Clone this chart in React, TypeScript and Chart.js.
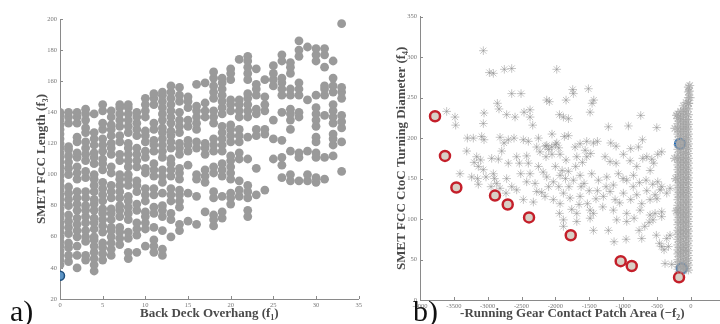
import React, { useEffect, useRef } from "react";
import { Chart, registerables } from "chart.js";

Chart.register(...registerables);

// ---------- Panel a) : Back Deck Overhang (f1) vs SMET FCC Length (f3) ----------
const leftXs = [0, 1, 2, 3, 4, 5, 6, 7, 8, 9, 10, 11, 12, 13, 14, 15, 16, 17, 18, 19, 20, 21, 22, 23, 24, 25, 26, 27, 28, 29, 30, 31, 32, 33];
const leftColumns: number[][] = [
  [42, 45, 48, 51, 54, 57, 60, 63, 66, 69, 72, 75, 78, 81, 84, 87, 90, 93, 96, 99, 102, 105, 108, 111, 114, 117, 120, 123, 126, 129, 132, 135, 138, 140],
  [44, 48, 53, 56, 62, 66, 70, 74, 80, 84, 88, 92, 100, 104, 108, 112, 116, 118, 133, 137, 140],
  [40, 48, 54, 60, 64, 68, 72, 77, 81, 85, 89, 97, 101, 105, 111, 114, 121, 124, 133, 137, 140],
  [45, 48, 57, 60, 64, 69, 73, 77, 80, 85, 89, 98, 102, 109, 113, 117, 121, 127, 130, 135, 139, 142],
  [38, 42, 46, 50, 54, 58, 60, 65, 69, 72, 77, 81, 84, 89, 93, 97, 100, 107, 111, 114, 119, 123, 127, 139],
  [45, 49, 53, 56, 63, 67, 71, 75, 78, 83, 87, 91, 95, 103, 107, 110, 115, 119, 123, 129, 133, 141, 145],
  [48, 52, 56, 60, 64, 66, 71, 75, 78, 85, 89, 93, 101, 105, 113, 117, 120, 125, 129, 132, 137, 141],
  [55, 59, 63, 66, 73, 77, 80, 85, 89, 93, 97, 100, 109, 113, 121, 125, 131, 135, 139, 143, 145],
  [46, 50, 59, 63, 71, 75, 79, 83, 86, 93, 97, 100, 105, 109, 113, 117, 120, 127, 131, 135, 139, 143, 145],
  [50, 61, 65, 69, 77, 81, 89, 93, 96, 105, 109, 113, 117, 125, 129, 133, 137, 140],
  [54, 65, 69, 73, 76, 83, 87, 91, 101, 104, 111, 115, 121, 125, 128, 137, 141, 145, 149],
  [50, 54, 58, 66, 75, 79, 87, 91, 99, 103, 107, 115, 119, 122, 129, 133, 145, 149, 152],
  [48, 52, 64, 73, 77, 80, 88, 95, 99, 103, 111, 115, 119, 123, 127, 130, 135, 139, 143, 147, 151, 153],
  [60, 71, 75, 83, 87, 91, 99, 103, 107, 110, 117, 121, 125, 128, 133, 137, 141, 145, 149, 153, 157],
  [64, 68, 79, 83, 87, 90, 97, 101, 104, 113, 117, 120, 127, 131, 135, 140, 147, 151, 156],
  [70, 88, 106, 115, 119, 122, 131, 135, 143, 147, 150],
  [68, 86, 97, 100, 117, 121, 129, 133, 137, 141, 144, 158],
  [76, 95, 99, 103, 113, 117, 120, 137, 141, 146, 159],
  [67, 71, 74, 85, 89, 101, 105, 115, 119, 123, 133, 137, 141, 149, 153, 157, 162, 166],
  [72, 76, 86, 99, 103, 107, 115, 119, 123, 127, 131, 139, 143, 147, 151, 155, 159, 162],
  [81, 85, 88, 97, 101, 105, 109, 112, 121, 125, 129, 132, 141, 145, 148, 161, 165, 168],
  [86, 90, 96, 110, 114, 121, 125, 129, 137, 141, 145, 148, 174],
  [73, 77, 85, 89, 93, 110, 124, 137, 141, 145, 149, 152, 161, 165, 169, 173, 176],
  [87, 104, 125, 129, 139, 142, 151, 155, 158, 168],
  [90, 126, 129, 141, 145, 150, 161],
  [110, 123, 135, 157, 161, 165, 170],
  [98, 106, 111, 122, 140, 151, 155, 159, 162, 173, 177],
  [96, 100, 115, 129, 135, 139, 142, 151, 155, 165, 169, 172],
  [96, 111, 114, 137, 140, 151, 155, 159, 176, 180, 186],
  [96, 100, 115, 148, 182],
  [95, 98, 111, 114, 121, 124, 131, 135, 139, 143, 151, 173, 177, 181],
  [97, 111, 138, 151, 155, 157, 169, 177, 181],
  [112, 119, 123, 126, 133, 137, 141, 145, 153, 157, 162, 173],
  [102, 121, 130, 134, 138, 149, 153, 156, 197],
];
const leftBestX = [0];
const leftBestY = [35];

// ---------- Panel b) : -Running Gear Contact Patch Area (-f2) vs Turning Diameter (f4) ----------
const starX = [
  -3064, -2975, -2916, -2754, -2645, -1980, -2645, -2507, -1512, -1744, -1734, -1433, -1458, -1842, -2128, -2089,
  -3606, -3483, -3473, -3054, -3064, -2857, -2833, -2720, -2596, -2463, -2374, -2335, -2374, -1940, -1881, -1807,
  -1487, -739, -502, -921, -1217,
  -3212, -3089, -3054, -2818, -2759, -2695, -2611, -2473, -2399, -2276, -2128, -2054, -1980, -1867, -1808, -1709,
  -1635, -1537, -1438, -1379, -1182, -1103, -995, -887, -773, -714, -650, -576, -488, -429,
  -3310, -3163, -3104, -3138, -2941, -2793, -2842, -2695, -2572, -2532, -2424, -2399, -2227, -2138, -1931, -1842,
  -1684, -1537, -1478, -1266, -1192, -1103, -896, -798, -709, -547,
  -3409, -3237, -3138, -3064, -3025, -2916, -2867, -2720, -2645, -2512, -2424, -2374, -2300, -2128, -2030, -1931,
  -1808, -1734, -1635, -1576, -1463, -1364, -1241, -1143, -1069, -946, -847, -758, -660, -562, -488, -429,
  -2818, -2729, -2572, -2473, -2276, -2202, -2153, -2030, -1931, -1881, -1783, -1635, -1527, -1487, -1379, -1291,
  -1192, -1118, -995, -887, -798, -724, -601, -527, -453, -355, -306, -2325, -1940, -1684, -1438, -1143, -946,
  -749, -601, -527, -429, -1759,
  -1881, -1438, -1881, -1684, -1487, -1217, -1094, -946, -837, -763, -680, -616, -557, -429, -724, -955, -1133,
  -508, -429, -394, -330, -355, -306, -380, -281, -463,
  -2150, -2100, -2050, -2000, -1950, -1900, -1850, -1700, -1600, -1560, -1620, -1500, -1400, -2250, -2180, -2000,
  -2100, -1950, -1800, -1650, -2250, -2050, -1300, -1250, -1000, -1050, -850, -650, -600, -500, -3150, -3300,
  -3200, -2950, -2900,
];
const starY = [
  308, 281, 280, 285, 286, 285, 255, 255, 261, 260, 255, 247, 243, 247, 247, 245,
  233, 226, 216, 231, 218, 243, 236, 229, 226, 232, 235, 216, 226, 229, 226, 224,
  232, 228, 213, 215, 214,
  200, 202, 198, 201, 194, 198, 200, 198, 196, 189, 191, 189, 194, 202, 203, 189,
  193, 196, 194, 196, 194, 190, 180, 187, 189, 198, 177, 174, 180, 183,
  184, 177, 173, 165, 175, 184, 174, 169, 177, 169, 178, 169, 183, 177, 180, 173,
  177, 177, 181, 177, 171, 169, 172, 165, 175, 169,
  156, 152, 143, 161, 152, 156, 144, 150, 140, 156, 146, 156, 144, 152, 146, 154,
  159, 148, 154, 144, 156, 148, 152, 142, 156, 148, 154, 145, 148, 143, 146, 140,
  138, 132, 136, 124, 134, 133, 128, 124, 119, 132, 126, 128, 119, 111, 135, 128,
  134, 124, 132, 124, 130, 119, 124, 130, 136, 132, 138, 121, 107, 107, 107, 111, 107,
  111, 105, 107, 109, 112,
  99, 86, 91, 97, 101, 86, 99, 97, 101, 86, 91, 96, 99, 103, 76, 75, 72,
  80, 66, 62, 66, 76, 80, 45, 44, 70,
  190, 186, 180, 192, 188, 160, 150, 165, 170, 185, 140, 135, 125, 165, 158, 165,
  140, 140, 140, 118, 200, 205, 115, 140, 150, 120, 140, 135, 160, 125, 150, 200,
  170, 140, 150,
];
const clusterX = [
  -190, -190, -190, -190, -190, -190, -190, -190, -190, -190, -190, -190, -190, -190, -190, -190,
  -190, -190, -190, -190, -190, -190, -190, -190, -190, -190, -190, -190, -190, -190, -190, -190,
  -150, -150, -150, -150, -150, -150, -150, -150, -150, -150, -150, -150, -150, -150, -150, -150,
  -150, -150, -150, -150, -150, -150, -150, -150, -150, -150, -150, -150, -150, -150, -150, -150,
  -110, -110, -110, -110, -110, -110, -110, -110, -110, -110, -110, -110, -110, -110, -110, -110, -110,
  -110, -110, -110, -110, -110, -110, -110, -110, -110, -110, -110, -110, -110, -110, -110, -110, -110,
  -70, -70, -70, -70, -70, -70, -70, -70, -70, -70, -70, -70, -70, -70, -70, -70, -70,
  -70, -70, -70, -70, -70, -70, -70, -70, -70, -70, -70, -70, -70, -70, -70, -70, -70,
  -35, -35, -35, -35, -35, -35, -35, -35, -35, -35, -35, -35, -35, -35, -35, -35, -35, -35, -35,
  -35, -35, -35, -35, -35, -35, -35, -35, -35, -35, -35, -35, -35, -35, -35, -35, -35, -35, -35,
  -15, -20, -10, -30, -210, -235, -225, -240, -215,
];
const clusterY = [
  38, 44, 50, 57, 62, 68, 75, 81, 86, 93, 99, 105, 111, 117, 124, 130,
  136, 142, 148, 155, 161, 167, 173, 179, 186, 192, 198, 205, 211, 218, 224, 230,
  41, 47, 54, 59, 65, 72, 78, 84, 89, 96, 102, 108, 114, 120, 127, 133,
  139, 145, 152, 158, 164, 170, 176, 183, 189, 195, 202, 208, 214, 221, 226, 233,
  36, 41, 47, 53, 60, 65, 71, 78, 84, 90, 96, 102, 108, 114, 121, 127, 133,
  139, 145, 151, 158, 164, 170, 176, 182, 189, 195, 201, 208, 214, 220, 227, 233, 240,
  39, 45, 51, 58, 63, 69, 76, 82, 87, 94, 100, 106, 112, 118, 124, 131, 137,
  143, 149, 155, 161, 167, 173, 180, 186, 192, 198, 204, 211, 217, 223, 230, 236, 244,
  37, 43, 49, 55, 61, 67, 73, 79, 85, 91, 97, 103, 109, 115, 121, 127, 133, 139, 145,
  151, 157, 163, 169, 175, 181, 187, 193, 199, 205, 211, 217, 223, 229, 236, 243, 250, 257, 263,
  265, 258, 250, 243, 228, 212, 150, 175, 110,
];
const paretoX = [-3778, -3631, -3463, -2892, -2704, -2389, -1773, -1035, -872, -173];
const paretoY = [227, 178, 139, 129, 118, 102, 80, 48, 42, 28];
const bestX = [-158, -133];
const bestY = [193, 39];

const toPts = (xs: number[], ys: number[]) => xs.map((x, i) => ({ x, y: ys[i] }));

const inwardTicks = {
  id: "inwardTicks",
  beforeDatasetsDraw(chart: any) {
    const { ctx } = chart;
    const x = chart.scales.x;
    const y = chart.scales.y;
    ctx.save();
    ctx.strokeStyle = "#8a8a8a";
    ctx.lineWidth = 1;
    ctx.beginPath();
    x.ticks.forEach((t: any) => {
      const px = Math.round(x.getPixelForValue(t.value)) + 0.5;
      ctx.moveTo(px, x.top);
      ctx.lineTo(px, x.top - 3);
    });
    y.ticks.forEach((t: any) => {
      const py = Math.round(y.getPixelForValue(t.value)) + 0.5;
      ctx.moveTo(y.right, py);
      ctx.lineTo(y.right + 3, py);
    });
    ctx.stroke();
    ctx.restore();
  },
};

const tickFont = { family: "'Liberation Serif', serif", size: 6.5 };
const titleFont = { family: "'Liberation Serif', serif", size: 13, weight: "bold" as const };

function makeScales(
  xmin: number, xmax: number, xstep: number,
  ymin: number, ymax: number, ystep: number,
  xtitle: string, ytitle: string, xh: number
) {
  return {
    x: {
      type: "linear" as const,
      min: xmin,
      max: xmax,
      afterFit: (s: any) => { s.height = xh; },
      grid: { display: false, drawTicks: false },
      border: { display: true, color: "#8a8a8a", width: 1 },
      ticks: { stepSize: xstep, autoSkip: false, font: tickFont, color: "#777", padding: 2, maxRotation: 0, callback: (v: any) => String(v) },
      title: { display: true, text: xtitle, font: titleFont, color: "#4a4a4a", padding: { top: 0, bottom: 3 } },
    },
    y: {
      type: "linear" as const,
      min: ymin,
      max: ymax,
      afterFit: (s: any) => { s.width = 60; },
      grid: { display: false, drawTicks: false },
      border: { display: true, color: "#8a8a8a", width: 1 },
      ticks: { stepSize: ystep, autoSkip: false, font: tickFont, color: "#777", padding: 3, callback: (v: any) => String(v) },
      title: { display: true, text: ytitle, font: titleFont, color: "#4a4a4a", padding: { top: 34, bottom: 0 } },
    },
  };
}

export default function App() {
  const leftRef = useRef<HTMLCanvasElement>(null);
  const rightRef = useRef<HTMLCanvasElement>(null);

  useEffect(() => {
    const leftData = leftColumns.flatMap((ys, i) => ys.map((y) => ({ x: leftXs[i], y })));
    const left = new Chart(leftRef.current!, {
      type: "scatter",
      data: {
        datasets: [
          { data: leftData, pointRadius: 4.4, pointBorderWidth: 0, backgroundColor: "#9a9a9a", borderColor: "#9a9a9a" },
          { data: toPts(leftBestX, leftBestY), pointRadius: 4.5, pointBorderWidth: 1.5, backgroundColor: "#5b93c4", borderColor: "#1e4f7e" },
        ],
      },
      options: {
        responsive: false,
        animation: false,
        layout: { padding: { top: 19, right: 6.3, bottom: 0, left: 0 } },
        plugins: { legend: { display: false }, tooltip: { enabled: false } },
        scales: makeScales(0, 35, 5, 20, 200, 20, "Back Deck Overhang (f\u2081)", "SMET FCC Length (f\u2083)", 25) as any,
      },
      plugins: [inwardTicks],
    });

    const right = new Chart(rightRef.current!, {
      type: "scatter",
      data: {
        datasets: [
          { data: toPts(starX, starY), pointStyle: "star", pointRadius: 4.3, pointBorderWidth: 1, borderColor: "rgba(140,140,140,0.5)", backgroundColor: "rgba(140,140,140,0.5)" },
          { data: toPts(clusterX, clusterY), pointStyle: "star", pointRadius: 4.5, pointBorderWidth: 1.2, borderColor: "rgba(160,160,160,0.6)", backgroundColor: "rgba(160,160,160,0.6)" },
          { data: toPts(paretoX, paretoY), pointRadius: 5, pointBorderWidth: 2.5, borderColor: "#c41f2a", backgroundColor: "#d8d0c6" },
          { data: toPts(bestX, bestY), pointRadius: 5, pointBorderWidth: 2.2, borderColor: "#1f6cbd", backgroundColor: "#c9ccd0" },
        ],
      },
      options: {
        responsive: false,
        animation: false,
        layout: { padding: { top: 16.7, right: 15.4, bottom: 0, left: 0 } },
        plugins: { legend: { display: false }, tooltip: { enabled: false } },
        scales: makeScales(-4000, 500, 500, 0, 350, 50, "-Running Gear Contact Patch Area (\u2212f\u2082)", "SMET FCC CtoC Turning Diameter (f\u2084)", 24) as any,
      },
      plugins: [inwardTicks],
    });

    return () => {
      left.destroy();
      right.destroy();
    };
  }, []);

  const panelLabel: React.CSSProperties = {
    position: "absolute",
    top: 296,
    fontFamily: "'Liberation Serif', serif",
    fontSize: 30,
    lineHeight: "30px",
    color: "#111",
    whiteSpace: "nowrap",
  };

  return (
    <div style={{ position: "fixed", left: 0, top: 0, width: 720, height: 324, overflow: "hidden", background: "#fff" }}>
      <canvas ref={leftRef} width={365} height={324} style={{ position: "absolute", left: 0, top: 0, width: 365, height: 324 }} />
      <canvas ref={rightRef} width={380} height={324} style={{ position: "absolute", left: 360, top: 0, width: 380, height: 324 }} />
      <div style={{ ...panelLabel, left: 10 }}>a)</div>
      <div style={{ ...panelLabel, left: 413 }}>b)</div>
    </div>
  );
}
